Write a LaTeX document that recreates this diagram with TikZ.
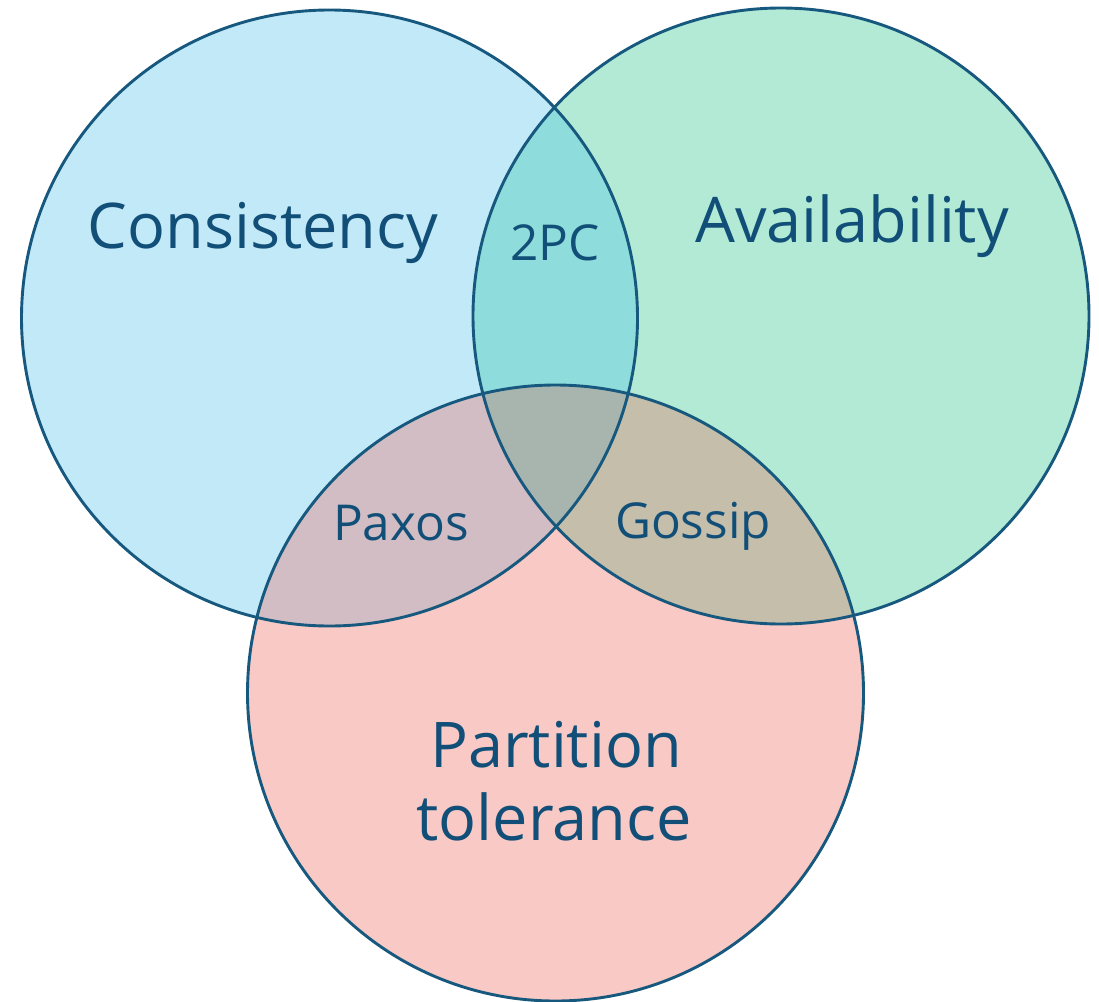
\documentclass[tikz,border=0pt]{standalone}
\usepackage{fontspec}
\setmainfont{Open Sans}
\definecolor{edge}{HTML}{17587E}
\definecolor{ink}{HTML}{124F78}
\definecolor{cfill}{HTML}{C2E9F7}
\definecolor{afill}{HTML}{B2EAD5}
\definecolor{pfill}{HTML}{F8C9C5}
\definecolor{cafill}{HTML}{8EDCDB}
\definecolor{cpfill}{HTML}{D1BDC3}
\definecolor{apfill}{HTML}{C5BEAA}
\definecolor{capfill}{HTML}{A8B5AE}
\begin{document}
\begin{tikzpicture}[x=1pt,y=-1pt,
  ring/.style={draw=edge,line width=2.9pt},
  biglabel/.style={text=ink,font=\fontsize{63}{70}\selectfont,anchor=base,inner sep=0pt},
  smalllabel/.style={text=ink,font=\fontsize{49.5}{56}\selectfont,anchor=base,inner sep=0pt}]
\useasboundingbox (0,0) rectangle (1099,1001);
% circle centres and radius
\coordinate (cc) at (329.5,318);
\coordinate (ac) at (781,316);
\coordinate (pc) at (555.5,693);
\def\rad{308}
% single-set regions
\fill[cfill] (cc) circle (\rad);
\fill[afill] (ac) circle (\rad);
\fill[pfill] (pc) circle (\rad);
% pairwise overlaps
\begin{scope}
  \clip (cc) circle (\rad);
  \fill[cafill] (ac) circle (\rad);
  \fill[cpfill] (pc) circle (\rad);
\end{scope}
\begin{scope}
  \clip (ac) circle (\rad);
  \fill[apfill] (pc) circle (\rad);
\end{scope}
% triple overlap
\begin{scope}
  \clip (cc) circle (\rad);
  \clip (ac) circle (\rad);
  \fill[capfill] (pc) circle (\rad);
\end{scope}
% outlines
\draw[ring] (cc) circle (\rad);
\draw[ring] (ac) circle (\rad);
\draw[ring] (pc) circle (\rad);
% labels
\node[biglabel] (cons) at (263,248) {Consistency};
\node[biglabel] (avail) at (852,242) {Availability};
\node[biglabel] (part) at (556,767) {Partition};
\node[biglabel] (tol) at (554,840) {tolerance};
\node[smalllabel] (twopc) at (555,260) {2PC};
\node[smalllabel] (paxos) at (401,540) {Paxos};
\node[smalllabel] (gossip) at (693,538) {Gossip};
\end{tikzpicture}
\end{document}
